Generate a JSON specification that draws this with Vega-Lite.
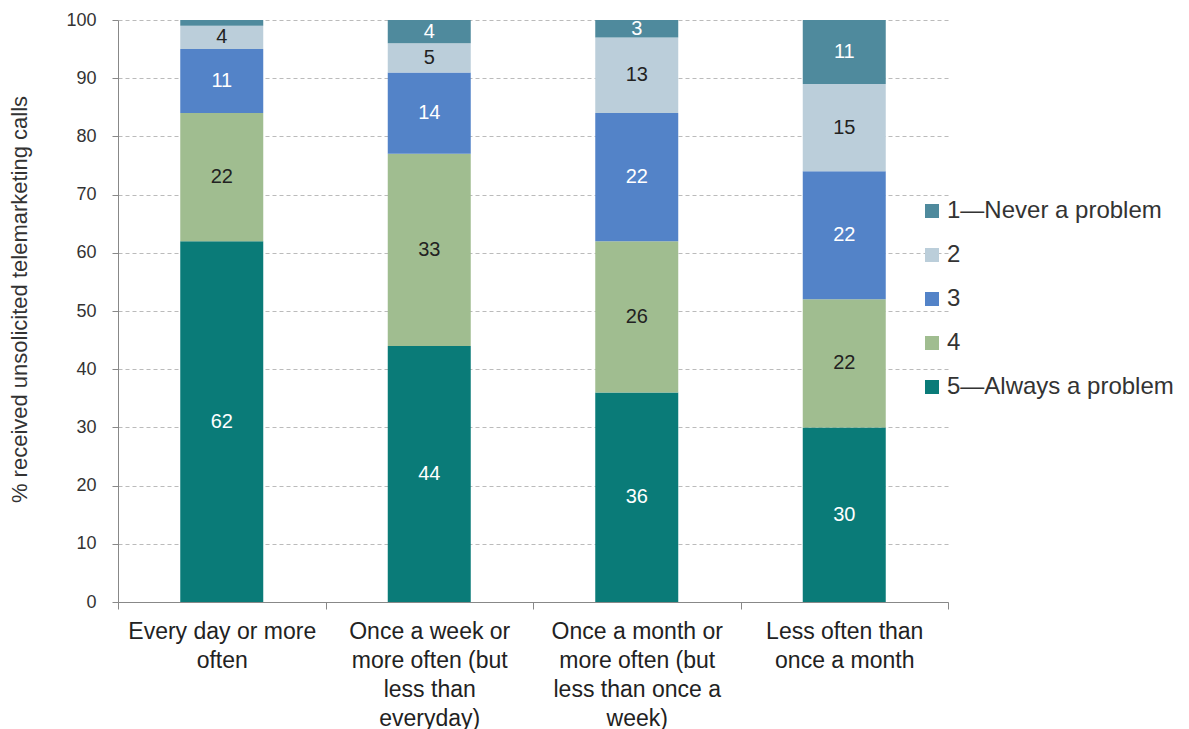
{
  "$schema": "https://vega.github.io/schema/vega-lite/v6.json",
  "width": 830,
  "height": 582,
  "autosize": {"type": "none"},
  "padding": {"left": 118, "top": 20, "right": 241, "bottom": 127},
  "background": "white",
  "config": {"view": {"stroke": null}, "font": "Liberation Sans"},
  "data": {
    "values": [
      {"freq": "Every day or more often", "series": "5—Always a problem", "value": 62},
      {"freq": "Every day or more often", "series": "4", "value": 22},
      {"freq": "Every day or more often", "series": "3", "value": 11},
      {"freq": "Every day or more often", "series": "2", "value": 4},
      {"freq": "Every day or more often", "series": "1—Never a problem", "value": 1},
      {"freq": "Once a week or more often (but less than everyday)", "series": "5—Always a problem", "value": 44},
      {"freq": "Once a week or more often (but less than everyday)", "series": "4", "value": 33},
      {"freq": "Once a week or more often (but less than everyday)", "series": "3", "value": 14},
      {"freq": "Once a week or more often (but less than everyday)", "series": "2", "value": 5},
      {"freq": "Once a week or more often (but less than everyday)", "series": "1—Never a problem", "value": 4},
      {"freq": "Once a month or more often (but less than once a week)", "series": "5—Always a problem", "value": 36},
      {"freq": "Once a month or more often (but less than once a week)", "series": "4", "value": 26},
      {"freq": "Once a month or more often (but less than once a week)", "series": "3", "value": 22},
      {"freq": "Once a month or more often (but less than once a week)", "series": "2", "value": 13},
      {"freq": "Once a month or more often (but less than once a week)", "series": "1—Never a problem", "value": 3},
      {"freq": "Less often than once a month", "series": "5—Always a problem", "value": 30},
      {"freq": "Less often than once a month", "series": "4", "value": 22},
      {"freq": "Less often than once a month", "series": "3", "value": 22},
      {"freq": "Less often than once a month", "series": "2", "value": 15},
      {"freq": "Less often than once a month", "series": "1—Never a problem", "value": 11}
    ]
  },
  "encoding": {
    "x": {
      "field": "freq",
      "type": "nominal",
      "sort": ["Every day or more often", "Once a week or more often (but less than everyday)", "Once a month or more often (but less than once a week)", "Less often than once a month"],
      "scale": {"paddingInner": 0, "paddingOuter": 0},
      "axis": {
        "title": null,
        "labelAngle": 0,
        "labelFontSize": 23,
        "labelColor": "#222",
        "labelLineHeight": 29,
        "labelPadding": 11,
        "labelBaseline": "top",
        "labelLimit": 250,
        "tickBand": "extent",
        "tickSize": 7,
        "tickColor": "#888",
        "domainColor": "#888",
        "labelExpr": "datum.value == 'Every day or more often' ? ['Every day or more', 'often'] : datum.value == 'Once a week or more often (but less than everyday)' ? ['Once a week or', 'more often (but', 'less than', 'everyday)'] : datum.value == 'Once a month or more often (but less than once a week)' ? ['Once a month or', 'more often (but', 'less than once a', 'week)'] : datum.value == 'Less often than once a month' ? ['Less often than', 'once a month'] : ''"
      }
    }
  },
  "layer": [
    {
      "mark": {"type": "bar", "width": {"band": 0.4}},
      "encoding": {
        "y": {
          "field": "value",
          "type": "quantitative",
          "stack": "zero",
          "scale": {"domain": [0, 100]},
          "axis": {
            "title": "% received unsolicited telemarketing calls",
            "titleFontSize": 22,
            "titleFontWeight": "normal",
            "titleColor": "#333",
            "titlePadding": 34,
            "titleY": 279,
            "values": [0, 10, 20, 30, 40, 50, 60, 70, 80, 90, 100],
            "labelFontSize": 18,
            "labelColor": "#333",
            "labelPadding": 16,
            "tickSize": 6,
            "tickColor": "#888",
            "domainColor": "#888",
            "grid": true,
            "gridColor": "#bbbbbb",
            "gridDash": [4, 3]
          }
        },
        "color": {
          "field": "series",
          "type": "nominal",
          "scale": {
            "domain": ["1—Never a problem", "2", "3", "4", "5—Always a problem"],
            "range": ["#4F8A9D", "#BBCEDA", "#5383C8", "#A0BD90", "#0A7B78"]
          },
          "legend": {
            "title": null,
            "orient": "none",
            "legendX": 802,
            "legendY": 179,
            "labelFontSize": 24,
            "labelColor": "#333",
            "labelLimit": 300,
            "symbolType": "square",
            "symbolSize": 196,
            "symbolStrokeWidth": 0,
            "rowPadding": 20,
            "labelOffset": 3
          }
        },
        "order": {"field": "series", "sort": "descending"}
      }
    },
    {
      "transform": [
        {"stack": "value", "groupby": ["freq"], "sort": [{"field": "series", "order": "descending"}], "as": ["v0", "v1"]},
        {"filter": "datum.value > 1"},
        {"calculate": "(datum.v0 + datum.v1) / 2", "as": "mid"}
      ],
      "mark": {"type": "text", "fontSize": 20},
      "encoding": {
        "y": {"field": "mid", "type": "quantitative"},
        "text": {"field": "value", "type": "quantitative"},
        "color": {
          "condition": {"test": "datum.series === '2' || datum.series === '4'", "value": "#222"},
          "value": "white"
        }
      }
    }
  ]
}
